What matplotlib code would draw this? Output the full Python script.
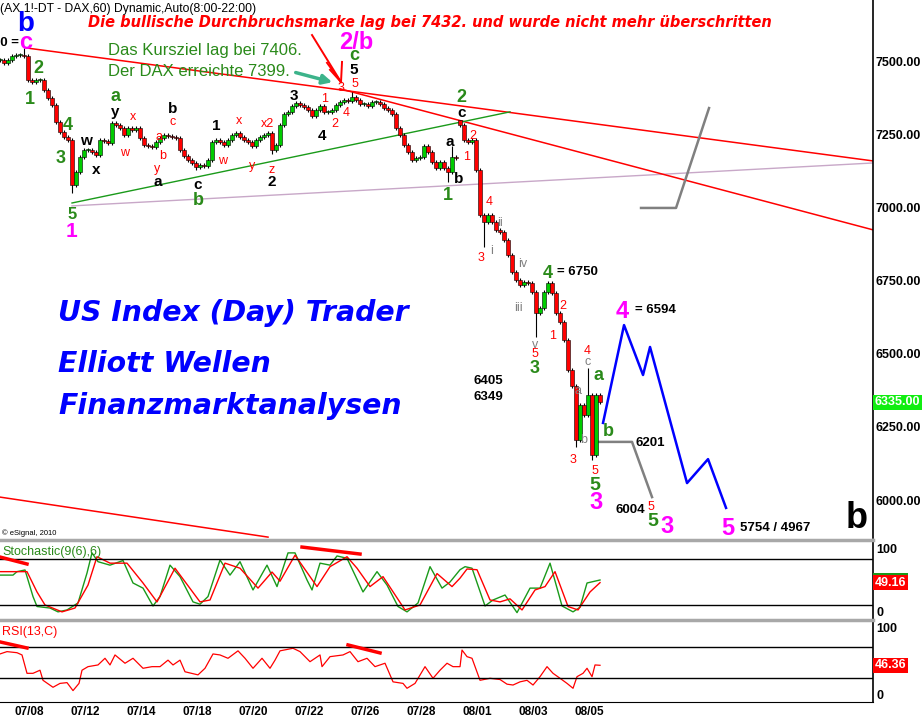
import numpy as np
import matplotlib
matplotlib.use("Agg")
import matplotlib.pyplot as plt
from matplotlib.lines import Line2D

plt.rcParams['font.family'] = ['Liberation Sans', 'DejaVu Sans']

# --- Kursdaten (DAX 60 min, jeweils 2 Stunden je Kerze) ---
closes = [7507, 7497, 7507, 7521, 7524, 7524, 7521, 7438, 7432, 7438,
          7438, 7404, 7377, 7353, 7295, 7260, 7243, 7233, 7079, 7123,
          7175, 7199, 7199, 7192, 7182, 7233, 7229, 7223, 7291, 7284,
          7274, 7250, 7274, 7267, 7274, 7240, 7216, 7212, 7209, 7226,
          7240, 7250, 7247, 7243, 7240, 7199, 7178, 7164, 7154, 7140,
          7147, 7144, 7164, 7226, 7233, 7226, 7216, 7233, 7250, 7257,
          7243, 7233, 7226, 7212, 7233, 7243, 7250, 7257, 7199, 7216,
          7284, 7322, 7329, 7349, 7360, 7353, 7346, 7336, 7315, 7336,
          7349, 7329, 7329, 7336, 7353, 7363, 7370, 7366, 7380, 7370,
          7356, 7356, 7349, 7363, 7363, 7356, 7342, 7336, 7322, 7274,
          7250, 7216, 7192, 7164, 7171, 7175, 7212, 7192, 7158, 7137,
          7158, 7137, 7123, 7175, 7171, 7284, 7233, 7226, 7233, 7130,
          6976, 6952, 6976, 6952, 6925, 6918, 6890, 6839, 6781, 6753,
          6736, 6747, 6743, 6712, 6640, 6658, 6712, 6743, 6709, 6640,
          6610, 6548, 6445, 6390, 6205, 6325, 6291, 6360, 6154, 6360,
          6335]
open_gaps = {115: 7300}
wick_highs = {6: 7548, 88: 7397, 113: 7212, 115: 7300, 147: 6452}
wick_lows = {18: 7050, 49: 7130, 68: 7185, 112: 7089, 121: 6866,
             134: 6558, 144: 6181, 148: 6137}
wick_pad = 6

# Stochastik %K (gruen) und %D (rot), x in Stundenkerzen
stoch_k_x = [0, 6.5, 8.5, 12.5, 16.5, 18.5, 25, 29, 33.5, 39,
             43.5, 46, 49, 55, 61.5, 66.5, 71.5, 76.5, 80, 85,
             90, 96.5, 100, 104, 110, 115, 120, 126.5, 133.5, 138.5,
             144, 147.5, 153.5, 156, 160, 165, 168.5, 173.5, 181.5, 188.5,
             193.5, 199, 203.5, 209, 215, 221, 225, 230, 232.5, 236,
             242.5, 246.5, 252.5, 258.5, 265, 270, 275, 281, 286.5, 290,
             293.5, 300]
stoch_k = [59, 59, 63.5, 65.7, 31, 18, 16, 11, 13.5, 22.6,
           61.7, 88, 76.5, 72, 78, 48.7, 42, 18.7, 31, 72,
           57, 24, 21, 31, 78.7, 59, 76.5, 39.6, 72, 44,
           88, 88, 52.6, 39.6, 74.6, 72, 84, 81, 37, 63.5,
           46, 18, 11, 22.6, 70, 42, 50, 66, 70, 68,
           18.7, 26.5, 33, 10, 42, 42, 74.6, 18.7, 11, 17,
           48.7, 52.6]
stoch_d_x = [0, 13.5, 18.5, 22.5, 31, 37.5, 44, 48.5, 55, 63.5,
             71.5, 78.5, 87.5, 100, 105, 112.5, 120, 129, 136, 140,
             147.5, 155, 158.5, 165, 173.5, 178.5, 185, 191.5, 202.5, 210,
             218.5, 226, 230, 233.5, 238.5, 245, 250, 255, 261, 267.5,
             272.5, 277.5, 284, 289, 295, 300]
stoch_d = [63.5, 63.5, 37, 20, 11, 16, 46, 83, 74.6, 74.6,
           48.7, 24, 68, 24, 26.5, 74.6, 68, 42, 63, 51,
           85, 57, 44, 70, 83, 68, 44, 57, 13.5, 20,
           61, 44, 55, 67, 66, 26.5, 24, 28, 13.5, 39.6,
           44, 63.5, 18, 13.5, 37, 49.16]

# RSI(13)
rsi_x = [0, 3.5, 8.5, 11, 13.5, 16.5, 20, 21.5, 26.5, 30,
         33.5, 36.5, 39.5, 41, 44, 49, 52.5, 55, 57.5, 62.5,
         66.5, 71.5, 76, 80, 84, 86.5, 90, 92.5, 99, 102.5,
         106.5, 110, 114, 119, 122.5, 126.5, 131, 135, 137.5, 140,
         146.5, 150, 155, 160, 161, 165, 171.5, 175, 179, 183.5,
         187.5, 192.5, 196.5, 201.5, 203.5, 207.5, 212.5, 216.5, 220, 223.5,
         226.5, 230, 231, 233.5, 236, 240, 245, 250, 253.5, 256.5,
         260, 263.5, 266.5, 270, 273.5, 276.5, 280, 283.5, 286.5, 288.5,
         291.5, 293.5, 296, 297.5, 300]
rsi = [61, 64, 62.6, 59.7, 36, 36, 40, 27, 18, 23,
       24, 13.7, 23, 40, 44.6, 46.8, 55.4, 46.8, 59.7, 49,
       55.4, 42.5, 44.6, 44.6, 53, 46.8, 53, 38, 34, 42.5,
       61, 59.7, 55.4, 65, 55.4, 42.5, 55.4, 42.5, 53, 65,
       68.3, 64, 51, 59.7, 44.6, 57.5, 59.7, 64, 51, 55.4,
       44.6, 49, 25, 23, 16.7, 23, 44.6, 29.6, 40, 49,
       44.6, 44.6, 66, 57.5, 55.4, 27, 29.6, 28, 22, 20.9,
       25, 27, 20.9, 31.7, 44.6, 36, 29.6, 23, 16.7, 31.7,
       36, 42.5, 31.7, 46.8, 46.36]

date_labels = ['07/08', '07/12', '07/14', '07/18', '07/20', '07/22',
               '07/26', '07/28', '08/01', '08/03', '08/05']
first_label_bar = 14.5
bars_per_label = 28
price_ticks = [7500, 7250, 7000, 6750, 6500, 6250, 6000]

# Trendlinien / Projektionen (Kerze, Kurs)
red_line1 = ([13, 436.5], [7548, 7161])
red_line2 = ([170, 436.5], [7408, 6925])
red_line3 = ([0, 134], [6010, 5873])
green_line = ([36, 255], [7017, 7329])
mauve_line = ([36, 436.5], [7007, 7154])
grey_up = ([320.5, 338, 354.5], [7000, 7000, 7342])
grey_down = ([299, 316, 326], [6199, 6199, 6010])
blue_path = ([301.5, 312, 321.5, 325, 343.5, 354, 363],
             [6264, 6599, 6428, 6524, 6058, 6140, 5973])

GR = '#2a8a1a'
MG = '#ff00ff'
RD = '#ff0000'
BK = 'black'
GY = '#808080'
BL = '#0000ff'

# Wellenbeschriftungen: (Kerze, Kurs, Text, Farbe, Groesse)
wave_labels = [
    (13, 7630, 'b', BL, 20), (13, 7565, 'c', MG, 17),
    (19, 7479, '2', GR, 13), (15, 7373, '1', GR, 13),
    (34, 7281, '4', GR, 13), (30.5, 7171, '3', GR, 13),
    (36, 6976, '5', GR, 12), (35.5, 6921, '1', MG, 15),
    (43, 7229, 'w', BK, 11), (48, 7130, 'x', BK, 11),
    (57.5, 7380, 'a', GR, 13), (57.5, 7329, 'y', BK, 11),
    (66.5, 7312, 'x', RD, 9), (62.5, 7188, 'w', RD, 9),
    (79.5, 7243, 'a', RD, 9), (81.5, 7178, 'b', RD, 9),
    (78.5, 7134, 'y', RD, 9), (79, 7089, 'a', BK, 11),
    (86.5, 7339, 'b', BK, 11), (86.5, 7295, 'c', RD, 9),
    (99, 7079, 'c', BK, 11), (99, 7027, 'b', GR, 13),
    (108, 7281, '1', BK, 11), (111.5, 7161, 'w', RD, 9),
    (119.5, 7298, 'x', RD, 9), (126, 7144, 'y', RD, 9),
    (133.5, 7288, 'x2', RD, 9), (136, 7130, 'z', RD, 9),
    (136, 7089, '2', BK, 11), (147, 7384, '3', BK, 11),
    (161, 7247, '4', BK, 11), (162.5, 7373, '1', RD, 9),
    (167.5, 7288, '2', RD, 9), (170.5, 7411, '3', RD, 9),
    (173, 7325, '4', RD, 9), (177.5, 7425, '5', RD, 9),
    (177, 7473, '5', BK, 11), (177, 7521, 'c', GR, 13),
    (178, 7568, '2/b', MG, 17),
    (230.5, 7377, '2', GR, 13), (231, 7325, 'c', BK, 11),
    (236.5, 7247, '2', RD, 9), (233.5, 7175, '1', RD, 9),
    (225, 7226, 'a', BK, 11), (229.5, 7099, 'b', BK, 11),
    (224, 7041, '1', GR, 13), (244.5, 7021, '4', RD, 9),
    (240.5, 6829, '3', RD, 9), (246, 6853, 'i', GY, 9),
    (250, 6949, 'ii', GY, 9), (261.5, 6808, 'iv', GY, 9),
    (259, 6658, 'iii', GY, 9), (267.5, 6531, 'v', GY, 9),
    (267.5, 6500, '5', RD, 9), (267.5, 6452, '3', GR, 13),
    (274, 6777, '4', GR, 13), (281.5, 6664, '2', RD, 9),
    (276.5, 6562, '1', RD, 9), (293.5, 6510, '4', RD, 9),
    (294, 6473, 'c', GY, 9), (299, 6425, 'a', GR, 13),
    (289, 6373, 'a', GY, 9), (292, 6205, 'b', GY, 9),
    (304, 6236, 'b', GR, 13), (286.5, 6137, '3', RD, 9),
    (297.5, 6099, '5', RD, 9), (297.5, 6051, '5', GR, 14),
    (298, 5990, '3', MG, 17),
    (325.5, 5976, '5', RD, 9), (326.5, 5928, '5', GR, 14),
    (333.5, 5908, '3', MG, 17), (311, 6647, '4', MG, 17),
    (364, 5904, '5', MG, 17), (428.5, 5935, 'b', BK, 26),
]
# Kurstexte (Kerze, Kurs, Text, Ausrichtung)
price_notes = [
    (9.5, 7565, '7550 =', 'right'),
    (278.5, 6781, '= 6750', 'left'),
    (244, 6408, '6405', 'center'),
    (244, 6353, '6349', 'center'),
    (325, 6195, '6201', 'center'),
    (315, 5966, '6004', 'center'),
    (317.5, 6651, '= 6594', 'left'),
    (370, 5904, '5754 / 4967', 'left'),
]
red_arrow_tip = (170.5, 7431)
red_arrow_starts = [(156, 7592), (163.5, 7497), (165, 7473), (171, 7500)]

fig = plt.figure(figsize=(9.22, 7.2), dpi=100)
ax = fig.add_axes([0, 0.2528, 0.9469, 0.7472])
ax_st = fig.add_axes([0, 0.1403, 0.9469, 0.1069])
ax_rsi = fig.add_axes([0, 0.025, 0.9469, 0.1125])

# --- Kerzen ---
close = np.array(closes, dtype=float)
bx = np.arange(len(close)) * 2
opn = np.r_[close[0], close[:-1]]
for j, v in open_gaps.items():
    opn[j] = v
hi = np.maximum(opn, close) + wick_pad
lo = np.minimum(opn, close) - wick_pad
for j, v in wick_highs.items():
    hi[j] = v
for j, v in wick_lows.items():
    lo[j] = v
up = close >= opn
ax.vlines(bx, lo, hi, color='black', lw=0.8, zorder=3)
body = np.maximum(np.abs(close - opn), 4)
ax.bar(bx, body, bottom=np.minimum(opn, close), width=1.6,
       color=np.where(up, '#00cc00', '#ff0000'), edgecolor='black',
       linewidth=0.4, zorder=4)

# --- Linien ---
ax.plot(*red_line1, color=RD, lw=1.1, zorder=2)
ax.plot(*red_line2, color=RD, lw=1.1, zorder=2)
ax.plot(*red_line3, color=RD, lw=1.1, zorder=2)
ax.plot(*green_line, color='#1a9a1a', lw=1.0, zorder=2)
ax.plot(*mauve_line, color='#c8a8c8', lw=1.0, zorder=1)
ax.plot(*grey_up, color=GY, lw=1.8, zorder=2)
ax.plot(*grey_down, color=GY, lw=1.8, zorder=2)
ax.plot(*blue_path, color=BL, lw=1.8, zorder=2)

for sb, sp in red_arrow_starts:
    ax.plot([sb, red_arrow_tip[0]], [sp, red_arrow_tip[1]], color=RD, lw=1.4, zorder=5)
ax.annotate('', xy=(167.5, 7428), xytext=(146.5, 7466),
            arrowprops=dict(arrowstyle='-|>', color='#3cb38a', lw=2.5, mutation_scale=14))

for b, p, s, c, size in wave_labels:
    w = 'normal' if c in (RD, GY) else 'bold'
    ax.text(b, p, s, color=c, fontsize=size, fontweight=w, ha='center', va='center', zorder=6)
for b, p, s, ha in price_notes:
    ax.text(b, p, s, color='black', fontsize=9.5, fontweight='bold', ha=ha, va='center', zorder=6)

# --- Achsen ---
ax.set_ylim(5870, 7712)
ax.yaxis.tick_right()
ax.set_yticks(price_ticks)
ax.set_yticklabels(['%.2f' % t for t in price_ticks], fontsize=9, fontweight='bold')
ax.tick_params(axis='y', length=0, pad=2)
ax.tick_params(axis='x', length=0, labelbottom=False)
ax.text(1.002, closes[-1], '%.2f' % closes[-1], transform=ax.get_yaxis_transform(),
        color='white', fontsize=9, fontweight='bold', ha='left', va='center', clip_on=False,
        bbox=dict(boxstyle='square,pad=0.12', fc='#11ee11', ec='none'), zorder=7)

ax_st.plot(stoch_k_x, stoch_k, color='#1a9a1a', lw=1.0)
ax_st.plot(stoch_d_x, stoch_d, color=RD, lw=1.0)
ax_st.axhline(80, color='black', lw=1)
ax_st.axhline(20, color='black', lw=1)
ax_st.plot([0, 13.5], [82.6, 73.5], color=RD, lw=2.5)
ax_st.plot([151, 180], [95.6, 86.5], color=RD, lw=2.5)
ax_st.set_ylim(1.7, 102.2)
ax_st.text(1, 89, 'Stochastic(9(6),6)', color=GR, fontsize=9, ha='left', va='center')

ax_rsi.plot(rsi_x, rsi, color=RD, lw=0.9)
ax_rsi.axhline(70, color='black', lw=1)
ax_rsi.axhline(30, color='black', lw=1)
ax_rsi.plot([0, 13.5], [76.5, 68.7], color=RD, lw=2.5)
ax_rsi.plot([174, 190], [72.6, 62.3], color=RD, lw=2.5)
ax_rsi.set_ylim(-1, 103.5)
ax_rsi.text(1, 89.4, 'RSI(13,C)', color=RD, fontsize=9, ha='left', va='center')

for a, last, ext in [(ax_st, stoch_d[-1], stoch_k[-1]), (ax_rsi, rsi[-1], None)]:
    tr = a.get_yaxis_transform()
    a.text(1.004, a.get_ylim()[1] - 3, '100', transform=tr, fontsize=9, fontweight='bold',
           ha='left', va='top', clip_on=False)
    a.text(1.004, a.get_ylim()[0], '0', transform=tr, fontsize=9, fontweight='bold',
           ha='left', va='bottom', clip_on=False)
    if ext is not None:
        a.text(1.002, ext, '%.2f' % last, transform=tr, color='#1a9a1a', fontsize=9,
               fontweight='bold', ha='left', va='center', clip_on=False,
               bbox=dict(boxstyle='square,pad=0.12', fc='#1a9a1a', ec='none'))
    a.text(1.002, last, '%.2f' % last, transform=tr, color='white', fontsize=9,
           fontweight='bold', ha='left', va='center', clip_on=False,
           bbox=dict(boxstyle='square,pad=0.12', fc=RD, ec='none'))
    a.set_yticks([])

tick_pos = [first_label_bar + bars_per_label * k for k in range(len(date_labels))]
ax_st.set_xticks([])
ax_rsi.set_xticks(tick_pos)
ax_rsi.set_xticklabels(date_labels, fontsize=8.5, fontweight='bold')
ax_rsi.tick_params(axis='x', length=0, pad=3)

for a in (ax, ax_st, ax_rsi):
    a.set_xlim(0, 436.5)
    for side in ('top', 'left', 'bottom'):
        a.spines[side].set_visible(False)
    a.spines['right'].set_color('black')
    a.spines['right'].set_linewidth(1.2)
ax_rsi.spines['bottom'].set_visible(True)
ax_rsi.spines['bottom'].set_color('black')

# Trennlinien zwischen den Fenstern
for yy in (540, 620):
    fig.add_artist(Line2D([0, 0.9469], [1 - yy / 720] * 2, color='#a8a8a8', lw=2.5,
                          transform=fig.transFigure))

# --- Texte ---
fig.text(0, 1 - 9 / 720, '(AX 1!-DT - DAX,60) Dynamic,Auto(8:00-22:00)', fontsize=8.7,
         ha='left', va='center')
fig.text(430 / 922, 1 - 23 / 720,
         'Die bullische Durchbruchsmarke lag bei 7432. und wurde nicht mehr überschritten',
         color=RD, fontsize=10.5, fontweight='bold', style='italic', ha='center', va='center',
         family=['DejaVu Sans'])
fig.text(108 / 922, 1 - 51 / 720, 'Das Kursziel lag bei 7406.', color=GR, fontsize=12,
         ha='left', va='center')
fig.text(108 / 922, 1 - 71 / 720, 'Der DAX erreichte 7399.', color=GR, fontsize=12,
         ha='left', va='center')
for txt, yy in [('US Index (Day) Trader', 313), ('Elliott Wellen', 364),
                ('Finanzmarktanalysen', 406)]:
    fig.text(58 / 922, 1 - yy / 720, txt, color=BL, fontsize=20.4, fontweight='bold',
             style='italic', ha='left', va='center', family=['DejaVu Sans'])
fig.text(2 / 922, 1 - 533 / 720, '© eSignal, 2010', fontsize=5.5, ha='left', va='center')

fig.savefig('out.png', dpi=100, facecolor='white')
